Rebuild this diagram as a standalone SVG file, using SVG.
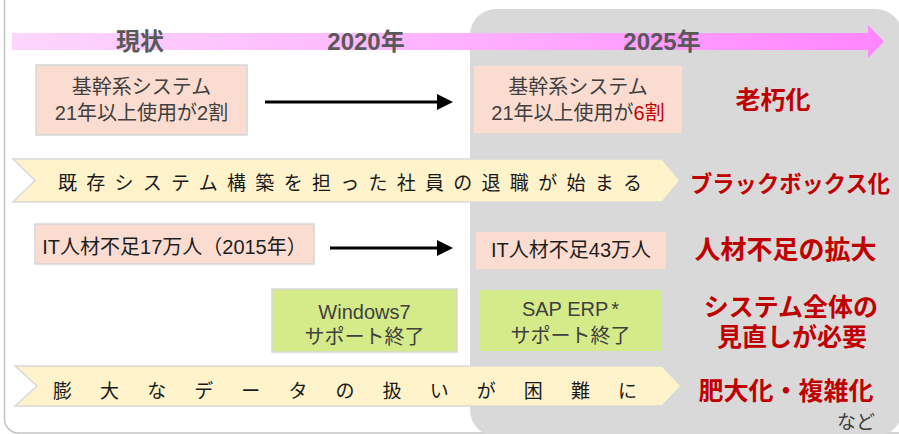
<svg xmlns="http://www.w3.org/2000/svg" width="899" height="434" viewBox="0 0 899 434">
<defs>
<linearGradient id="pinkGrad" x1="0" y1="0" x2="1" y2="0">
<stop offset="0" stop-color="#fcd6fc"/>
<stop offset="0.5" stop-color="#feb2fe"/>
<stop offset="1" stop-color="#ff85ff"/>
</linearGradient>
<marker id="arrowHead" markerUnits="userSpaceOnUse" markerWidth="16" markerHeight="16" viewBox="0 0 16 16" refX="8" refY="8" orient="auto">
<path d="M0,0 L16,8 L0,16 z" fill="#000"/>
</marker>
<style>
.base{font-family:"Liberation Sans","Noto Sans CJK JP",sans-serif;}
.tl{font-size:24px;font-weight:700;fill:#595959;text-anchor:middle;}
.peach{fill:#fbdcd0;}
.green{fill:#d5ea88;}
.bord{stroke:#d6d6d6;stroke-width:1.5;}
.box{font-size:20px;fill:#404040;text-anchor:middle;}
.dark{fill:#1e1e1e;}
.banner{fill:#fff3cc;stroke:#d9d9d9;stroke-width:1.5;}
.btext{font-size:19px;fill:#1a1a1a;}
.red{font-weight:700;fill:#c00000;text-anchor:middle;}
.conn{stroke:#000;stroke-width:3;fill:none;}
</style>
</defs>
<rect x="4.5" y="-40" width="920" height="473" rx="14" fill="#fff" stroke="#c4c4c4" stroke-width="1.5"/>
<rect id="panel2025" x="470" y="9" width="432" height="427" rx="26" fill="#d9d9d9"/>
<g id="timeline" class="base">
<path d="M12,33 L868,33 L868,25 L884,41.5 L868,58 L868,50 L12,50 z" fill="url(#pinkGrad)"/>
<text class="tl" x="140" y="50">現状</text>
<text class="tl" x="366" y="50">2020年</text>
<text class="tl" x="662" y="50">2025年</text>
</g>
<g id="connectors">
<line class="conn" x1="265" y1="102" x2="445" y2="102" marker-end="url(#arrowHead)"/>
<line class="conn" x1="330" y1="248" x2="445" y2="248" marker-end="url(#arrowHead)"/>
</g>
<g id="box-kikan-now" class="base">
<rect class="peach bord" x="36" y="65" width="211" height="70"/>
<text class="box" x="141.5" y="94">基幹系システム</text>
<text class="box" x="141.5" y="120">21年以上使用が2割</text>
</g>
<g id="box-kikan-2025" class="base">
<rect class="peach" x="474" y="66" width="208" height="67"/>
<text class="box" x="578" y="94">基幹系システム</text>
<text class="box" x="578" y="120">21年以上使用が<tspan fill="#c00000">6割</tspan></text>
</g>
<g id="label-rokyu" class="base">
<text class="red" x="773" y="109" font-size="25">老朽化</text>
</g>
<g id="banner-taishoku" class="base">
<path class="banner" d="M13,159 L662,159 L680,180.5 L662,202 L13,202 L35,180.5 z"/>
<text class="btext" x="58" y="190" textLength="584" lengthAdjust="spacing">既存システム構築を担った社員の退職が始まる</text>
</g>
<g id="label-blackbox" class="base">
<text x="690" y="192" font-size="23" font-weight="700" fill="#c00000" textLength="200" lengthAdjust="spacingAndGlyphs">ブラックボックス化</text>
</g>
<g id="box-it-2015" class="base">
<rect class="peach bord" x="35" y="224" width="279" height="40"/>
<text class="box dark" x="174.5" y="254">IT人材不足17万人（2015年）</text>
</g>
<g id="box-it-2025" class="base">
<rect class="peach" x="476" y="232" width="190" height="37"/>
<text class="box dark" x="571" y="257">IT人材不足43万人</text>
</g>
<g id="label-jinzai" class="base">
<text class="red" x="785.5" y="259" font-size="26">人材不足の拡大</text>
</g>
<g id="box-win7" class="base">
<rect class="green bord" x="272" y="289" width="185" height="63"/>
<text class="box" x="364.5" y="319">Windows7</text>
<text class="box" x="364.5" y="344">サポート終了</text>
</g>
<g id="box-sap" class="base">
<rect class="green" x="479" y="290" width="183" height="61"/>
<text class="box" x="570.5" y="316">SAP ERP<tspan dx="3">*</tspan></text>
<text class="box" x="570.5" y="343">サポート終了</text>
</g>
<g id="label-minaoshi" class="base">
<text class="red" x="791" y="316" font-size="25">システム全体の</text>
<text class="red" x="792" y="346" font-size="25">見直しが必要</text>
</g>
<g id="banner-data" class="base">
<path class="banner" d="M15,366 L662,366 L681,386 L662,406 L15,406 L37,386 z"/>
<text class="btext" x="53" y="398" textLength="584" lengthAdjust="spacing">膨大なデータの扱いが困難に</text>
</g>
<g id="label-hidai" class="base">
<text class="red" x="786" y="400" font-size="25">肥大化・複雑化</text>
<text x="856" y="429" font-size="19" fill="#404040" text-anchor="middle">など</text>
</g>
</svg>
